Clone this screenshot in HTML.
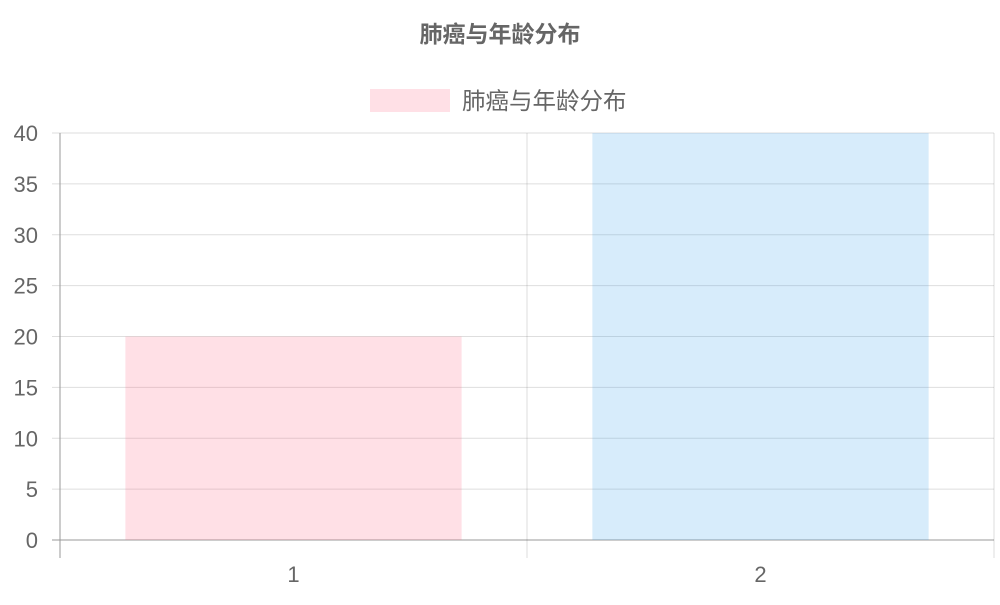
<!DOCTYPE html>
<html><head><meta charset="utf-8"><style>
body{margin:0;background:#fff;}
svg text{font-family:"Liberation Sans","Noto Sans CJK SC",sans-serif;fill:#666;}
</style></head><body>
<svg width="1000" height="600" id="c">
<text x="500" y="42" text-anchor="middle" font-size="23" font-weight="bold">肺癌与年龄分布</text>
<g>
<rect x="370" y="89" width="80" height="23" fill="rgba(255,99,132,0.2)"/>
<text x="462" y="109" font-size="23.5">肺癌与年龄分布</text>
</g>
<g id="grid"></g><g id="bars"></g><g id="axes"></g>
</svg>
<script>
const categories=["1","2"];
const values=[20,40];
const colors=["rgba(255,99,132,0.2)","rgba(54,162,235,0.2)"];
const yTicks=[0,5,10,15,20,25,30,35,40];
const L=60,R=994,T=133,B=540,yMax=40;
const ns="http://www.w3.org/2000/svg";
const y=v=>B-(v/yMax)*(B-T);
const cw=(R-L)/categories.length;
const x=i=>L+cw*i;
function mk(tag,a,parent){const e=document.createElementNS(ns,tag);for(const k in a)e.setAttribute(k,a[k]);document.getElementById(parent).appendChild(e);return e;}
yTicks.forEach(t=>{
  const g=mk('line',{x1:52,x2:R,y1:y(t),y2:y(t),stroke:t===0?'#999':'rgba(0,0,0,0.13)','stroke-width':1},'grid');
  
  
  const tx=mk('text',{x:38,y:y(t)+8,'text-anchor':'end','font-size':22},'axes');
  tx.textContent=t;
  
  
});
for(let i=0;i<=categories.length;i++){
  const g=mk('line',{x1:x(i),x2:x(i),y1:T,y2:558,stroke:i===0?'#999':'rgba(0,0,0,0.13)','stroke-width':1},'grid');
  
  
}
categories.forEach((c,i)=>{
  const bw=cw*0.72;
  const b=mk('rect',{x:x(i)+(cw-bw)/2,y:y(values[i]),width:bw,height:B-y(values[i]),fill:colors[i]},'bars');
  
  
  const tx=mk('text',{x:x(i)+cw/2,y:582,'text-anchor':'middle','font-size':22},'axes');
  tx.textContent=c;
  
  
});
</script>
</body></html>
